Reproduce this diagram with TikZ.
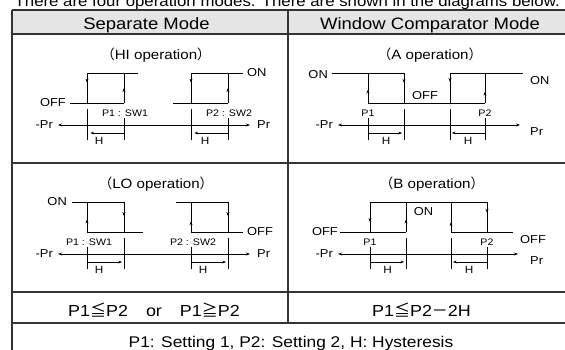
\documentclass[tikz,border=0pt]{standalone}
\usepackage{fontspec}
\setmainfont{Liberation Sans}[FakeStretch=1.12]
\newfontfamily\cjk{Noto Sans CJK JP}
\usetikzlibrary{arrows.meta,decorations.markings}
\begin{document}
\begin{tikzpicture}[x=1pt,y=-1pt,
  tbl/.style={draw=black!80,line width=1.2pt},
  ln/.style={draw=black,line width=0.8pt},
  mk/.style={postaction={decorate},decoration={markings,mark=at position #1 with {\arrow{Stealth[length=4pt,width=3pt]}}}},
  axis/.style={ln,{Stealth[length=4pt,width=3pt]}-{Stealth[length=4pt,width=3pt]}},
  harr/.style={ln,-{Stealth[length=3.5pt,width=2.8pt]}},
  txt/.style={inner sep=0pt,text=black},
  big/.style={txt,anchor=base,font=\fontsize{16.5}{19}\selectfont},
  ttl/.style={txt,anchor=base,font=\fontsize{13.5}{15}\selectfont},
  lab/.style={txt,font=\fontsize{11.5}{13}\selectfont},
  sml/.style={txt,font=\fontsize{9.5}{11}\selectfont},
  hl/.style={txt,font=\fontsize{10.5}{12}\selectfont}
]
\useasboundingbox (0,0) rectangle (565,349);
\clip (0,0) rectangle (565,349);
% intro sentence
\node[txt,anchor=base west,font=\fontsize{15}{18}\selectfont] (intro) at (14.5,6.5) {There are four operation modes. There are shown in the diagrams below.};
% table
\fill[black!10] (12,10) rectangle (570,34);
\draw[tbl] (12,10) -- (570,10);
\draw[tbl] (12,34) -- (570,34);
\draw[tbl] (12,163) -- (570,163);
\draw[tbl] (12,292) -- (570,292);
\draw[tbl] (12,323) -- (570,323);
\draw[tbl] (12,10) -- (12,352);
\draw[tbl] (288,10) -- (288,323);
\node[big] (h1) at (146.5,29.3) {Separate Mode};
\node[big] (h2) at (430,29.3) {Window Comparator Mode};
\node[big,font=\fontsize{16}{19}\selectfont] (r1) at (154,316) {P1{\cjk ≦}P2\hspace{18pt}or\hspace{18pt}P1{\cjk ≧}P2};
\node[big,font=\fontsize{16}{19}\selectfont] (r2) at (421.5,316) {P1{\cjk ≦}P2{\cjk －}2H};
\node[big,font=\fontsize{15.5}{19}\selectfont] (r3) at (291,347) {P1: Setting 1, P2: Setting 2, H: Hysteresis};

% ---------- HI operation ----------
\node[ttl] (tHI) at (156,59) {{\cjk （}HI operation{\cjk ）}};
\draw[ln] (70,103) -- (124,103);
\draw[ln] (87,73) -- (138,73);
\draw[ln,mk=0.32] (87,73) -- (87,103);
\draw[ln,mk=0.5] (124,103) -- (124,73);
\draw[ln] (173,103) -- (228,103);
\draw[ln] (191,73) -- (243,73);
\draw[ln,mk=0.32] (191,73) -- (191,103);
\draw[ln,mk=0.5] (228,103) -- (228,73);
\draw[axis] (58,125) -- (250,125);
\draw[ln] (87,109) -- (87,140);
\draw[ln] (124,118) -- (124,140);
\draw[ln] (191,109) -- (191,140);
\draw[ln] (228,118) -- (228,140);
\draw[harr] (124,133) -- (90.5,133);
\draw[harr] (228,133) -- (194.5,133);
\node[lab,anchor=east] (offHI) at (66,103) {OFF};
\node[lab,anchor=west] (onHI) at (247,73) {ON};
\node[lab,anchor=east] (mprHI) at (53,125) {-Pr};
\node[lab,anchor=west] (prHI) at (257,125) {Pr};
\node[sml] (p1HI) at (125,113.5) {P1 : SW1};
\node[sml] (p2HI) at (229,113.5) {P2 : SW2};
\node[hl] (hHIa) at (99,141) {H};
\node[hl] (hHIb) at (205,141) {H};

% ---------- A operation ----------
\node[ttl] (tA) at (430,59) {{\cjk （}A operation{\cjk ）}};
\draw[ln] (332,73) -- (404,73);
\draw[ln,mk=0.45] (368,103) -- (368,73);
\draw[ln,mk=0.33] (404,73) -- (404,103);
\draw[ln] (368,103) -- (485,103);
\draw[ln,mk=0.3] (450,73) -- (450,103);
\draw[ln,mk=0.38] (485,103) -- (485,73);
\draw[ln] (450,73) -- (523,73);
\draw[axis] (338,125) -- (520,125);
\draw[ln] (368,118) -- (368,140);
\draw[ln] (404,109) -- (404,140);
\draw[ln] (450,109) -- (450,140);
\draw[ln] (485,118) -- (485,140);
\draw[harr] (368,133) -- (402,133);
\draw[harr] (485,133) -- (452,133);
\node[lab,anchor=east] (onAl) at (328,74.5) {ON};
\node[lab,anchor=west] (onAr) at (530,80.5) {ON};
\node[lab] (offA) at (425,96) {OFF};
\node[lab,anchor=east] (mprA) at (333,125) {-Pr};
\node[lab,anchor=west] (prA) at (530,132) {Pr};
\node[sml] (p1A) at (368,113.5) {P1};
\node[sml] (p2A) at (485,113.5) {P2};
\node[hl] (hAa) at (386,141) {H};
\node[hl] (hAb) at (468,141) {H};

% ---------- LO operation ----------
\node[ttl] (tLO) at (156,188) {{\cjk （}LO operation{\cjk ）}};
\draw[ln] (72,202) -- (124,202);
\draw[ln,mk=0.42] (87,232) -- (87,202);
\draw[ln,mk=0.47] (124,202) -- (124,232);
\draw[ln] (87,232) -- (143,232);
\draw[ln] (176,202) -- (228,202);
\draw[ln,mk=0.36] (191,232) -- (191,202);
\draw[ln,mk=0.47] (228,202) -- (228,232);
\draw[ln] (191,232) -- (243,232);
\draw[axis] (58,254) -- (250,254);
\draw[ln] (87,247) -- (87,269);
\draw[ln] (124,238) -- (124,269);
\draw[ln] (191,247) -- (191,269);
\draw[ln] (228,238) -- (228,269);
\draw[harr] (87,262) -- (122,262);
\draw[harr] (191,262) -- (226,262);
\node[lab,anchor=east] (onLO) at (67,202) {ON};
\node[lab,anchor=west] (offLO) at (247,232) {OFF};
\node[lab,anchor=east] (mprLO) at (53,254) {-Pr};
\node[lab,anchor=west] (prLO) at (257,254) {Pr};
\node[sml] (p1LO) at (89,242.5) {P1 : SW1};
\node[sml] (p2LO) at (193,242.5) {P2 : SW2};
\node[hl] (hLOa) at (99,270) {H};
\node[hl] (hLOb) at (203,270) {H};

% ---------- B operation ----------
\node[ttl] (tB) at (432,188) {{\cjk （}B operation{\cjk ）}};
\draw[ln] (370,202) -- (487,202);
\draw[ln,mk=0.67] (370,202) -- (370,232);
\draw[ln,mk=0.42] (406,232) -- (406,202);
\draw[ln,mk=0.33] (451,232) -- (451,202);
\draw[ln,mk=0.36] (487,202) -- (487,232);
\draw[ln] (340,232) -- (406,232);
\draw[ln] (451,232) -- (513,232);
\draw[axis] (338,254) -- (518,254);
\draw[ln] (370,247) -- (370,269);
\draw[ln] (406,238) -- (406,269);
\draw[ln] (451,238) -- (451,269);
\draw[ln] (487,247) -- (487,269);
\draw[harr] (370,262) -- (404,262);
\draw[harr] (487,262) -- (453,262);
\node[lab,anchor=east] (offBl) at (338,232) {OFF};
\node[lab,anchor=west] (offBr) at (520,240) {OFF};
\node[lab] (onB) at (423.5,211.5) {ON};
\node[lab,anchor=east] (mprB) at (333,254) {-Pr};
\node[lab,anchor=west] (prB) at (530,261) {Pr};
\node[sml] (p1B) at (370,242.5) {P1};
\node[sml] (p2B) at (487,242.5) {P2};
\node[hl] (hBa) at (387.5,270) {H};
\node[hl] (hBb) at (469,270) {H};
\end{tikzpicture}
\end{document}
